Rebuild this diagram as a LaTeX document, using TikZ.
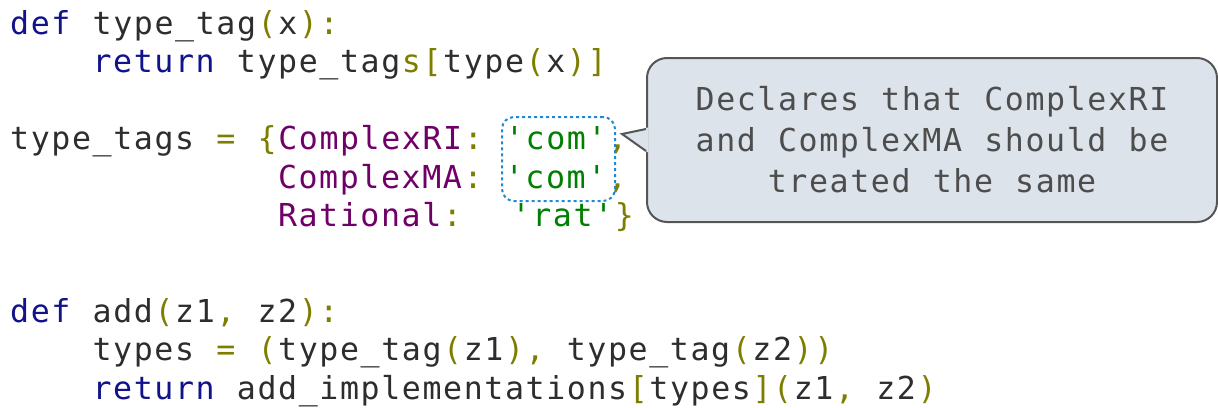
\documentclass[tikz,border=0pt]{standalone}
\usepackage{fontspec}
\usepackage{tikz}

\newfontfamily\codefont{DejaVu Sans Mono}[LetterSpace=5.06]
\newcommand{\codeset}{\codefont\fontsize{31.6}{38.5}\selectfont\spaceskip=20.6pt\relax}
\newcommand{\noteset}{\codefont\fontsize{31.6}{41}\selectfont\spaceskip=22.2pt\relax}

\definecolor{kwBlue}{RGB}{18,18,140}
\definecolor{plainGray}{RGB}{45,45,45}
\definecolor{punctOlive}{RGB}{125,125,0}
\definecolor{clsPurple}{RGB}{112,0,104}
\definecolor{strGreen}{RGB}{0,128,0}
\definecolor{noteFill}{RGB}{220,227,234}
\definecolor{noteLine}{RGB}{85,85,85}
\definecolor{noteText}{RGB}{77,77,77}
\definecolor{hiliteBlue}{RGB}{30,136,210}

% each run gets the tracking after its last letter back
\newcommand{\trk}{\kern1.6pt}
\newcommand{\pl}[1]{\textcolor{plainGray}{#1\trk}}
\newcommand{\kwd}[1]{\textcolor{kwBlue}{#1\trk}}
\newcommand{\pct}[1]{\textcolor{punctOlive}{#1\trk}}
\newcommand{\cls}[1]{\textcolor{clsPurple}{#1\trk}}
\newcommand{\strg}[1]{\textcolor{strGreen}{#1\trk}}
\newcommand{\qt}{\char"27\relax}

\begin{document}
\begin{tikzpicture}[x=1pt,y=-1pt]
	\useasboundingbox (0,0) rectangle (1218,407);
	
	\tikzstyle{code}=[anchor=base west,inner sep=0pt,text=plainGray,font=\codeset]
	
	\tikzstyle{noteBox}=[draw=noteLine,fill=noteFill,line width=2pt,rounded corners=20pt,minimum width=570pt,minimum height=164pt,align=center,text=noteText,font=\noteset]
	
	\tikzstyle{hilite}=[draw=hiliteBlue,line width=2pt,dash pattern=on 3pt off 3pt,rounded corners=12pt,minimum width=113pt,minimum height=84pt,inner sep=0pt]
	
	% type_tag
	\node[code](defTag) at (10,34){\kwd{def} \pl{type\_tag}\pct{(}\pl{x}\pct{):}};
	\node[code](retTag) at (92.4,72.5){\kwd{return} \pl{type\_tag}\pct{s[}\pl{type}\pct{(}\pl{x}\pct{)]}};
	
	% the dictionary
	\node[code](tagsRI) at (10,149.5){\pl{type\_tags} \pct{=} \pct{\{}\cls{ComplexRI}\pct{:} \strg{\qt com\qt}\pct{,}};
	\node[code](tagsMA) at (277.8,188){\cls{ComplexMA}\pct{:} \strg{\qt com\qt}\pct{,}};
	\node[code](tagsRat) at (277.8,226.5){\cls{Rational}\pct{:}~ \strg{\qt rat\qt}\pct{\}}};
	
	% add
	\node[code](defAdd) at (10,322){\kwd{def} \pl{add}\pct{(}\pl{z1}\pct{,} \pl{z2}\pct{):}};
	\node[code](typesLine) at (92.4,360.5){\pl{types} \pct{=} \pct{(}\pl{type\_tag}\pct{(}\pl{z1}\pct{),} \pl{type\_tag}\pct{(}\pl{z2}\pct{))}};
	\node[code](retAdd) at (92.4,399){\kwd{return} \pl{add\_implementations}\pct{[}\pl{types}\pct{](}\pl{z1}\pct{,} \pl{z2}\pct{)}};
	
	\node[hilite](comBox) at (558.5,159){};
	
	\node[noteBox](note) at (932,140){Declares that ComplexRI\\and ComplexMA should be\\treated the same};
	\coordinate(tip) at (622,134);
	\fill[noteFill] ([yshift=-12.5pt,xshift=2pt]note.west) -- (tip) -- ([yshift=12.5pt,xshift=2pt]note.west) -- cycle;
	\draw[noteLine,line width=2pt,miter limit=10] ([yshift=-11pt]note.west) -- (tip) -- ([yshift=11pt]note.west);
	
\end{tikzpicture}
\end{document}
